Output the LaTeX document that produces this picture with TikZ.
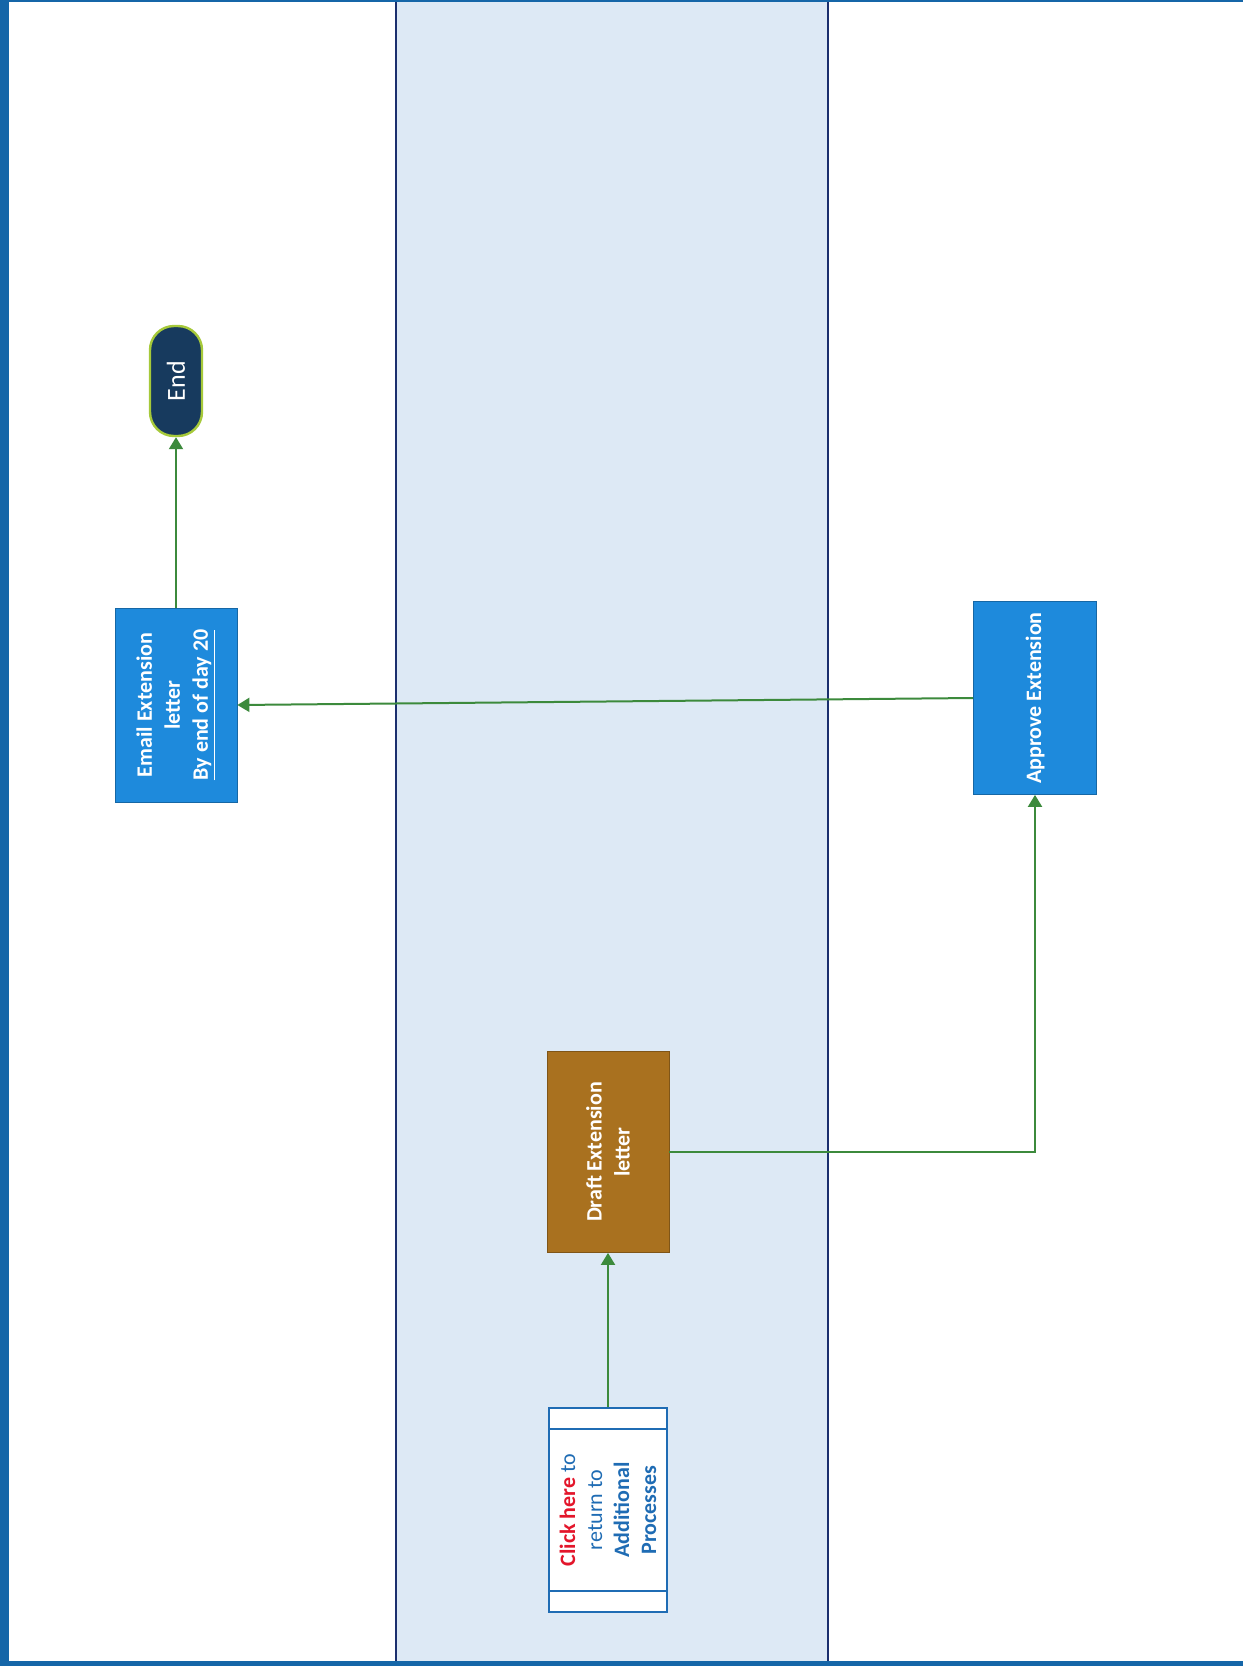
\documentclass[tikz,border=0pt]{standalone}
\usepackage{fontspec}
\setmainfont{Carlito}
\usepackage{tikz}
\usetikzlibrary{arrows.meta}
\definecolor{lanefill}{HTML}{DDE9F5}
\definecolor{laneline}{HTML}{1B2F6E}
\definecolor{frameblue}{HTML}{1566A8}
\definecolor{taskblue}{HTML}{1E8ADC}
\definecolor{taskbrown}{HTML}{A9711F}
\definecolor{endnavy}{HTML}{173A5E}
\definecolor{endrim}{HTML}{A6C93A}
\definecolor{flowgreen}{HTML}{3C8A3C}
\definecolor{linkblue}{HTML}{1F6CB4}
\definecolor{linkred}{HTML}{E3162B}

\begin{document}
\begin{tikzpicture}[x=0.5pt, y=-0.5pt,
    task/.style={rectangle, rotate=90, draw=#1!75!black, fill=#1, text=white,
        font=\fontsize{11}{14}\selectfont\bfseries, align=center, inner sep=0pt,
        minimum width=97pt, minimum height=61pt},
    terminal/.style={rectangle, rotate=90, rounded corners=12pt, draw=endrim,
        line width=1.2pt, fill=endnavy, text=white, font=\fontsize{13}{15}\selectfont,
        minimum width=55pt, minimum height=26pt},
    link/.style={rectangle, rotate=90, draw=linkblue, line width=1pt, fill=white,
        text=linkblue, font=\fontsize{11}{13.5}\selectfont, align=center,
        minimum width=102pt, minimum height=59pt},
    flow/.style={draw=flowgreen, line width=1pt, -{Triangle[length=6pt, width=7pt]}}]
    \useasboundingbox (0,0) rectangle (1243,1666);
    \fill[white] (0,0) rectangle (1243,1666);
    \fill[lanefill] (396,0) rectangle (828,1661);
    \draw[laneline, line width=1pt] (396,0) -- (396,1661) (828,0) -- (828,1661);
    \fill[frameblue] (0,0) rectangle (9,1666);
    \fill[frameblue] (0,1661) rectangle (1243,1666);
    \fill[frameblue] (0,0) rectangle (1243,2);

    \node[terminal] (end) at (176,381) {End};
    \node[task=taskblue] (email) at (176,705) {Email Extension\\letter\\\underline{By end of day 20}};
    \node[task=taskblue, minimum width=96.5pt, minimum height=61.5pt] (approve) at (1035,698) {Approve Extension};
    \node[task=taskbrown, minimum width=100.5pt] (draft) at (608,1152) {Draft Extension\\letter};
    \node[link] (back) at (608,1510) {{\color{linkred}\bfseries Click here} to\\return to\\\textbf{Additional}\\\textbf{Processes}};
    \draw[linkblue, line width=1pt]
        ([yshift=-11pt]back.north east) -- ([yshift=-11pt]back.south east)
        ([yshift=11pt]back.north west) -- ([yshift=11pt]back.south west);

    \path
        (back.east) edge[flow] (draft.west)
        (approve.north) edge[flow] (email.south)
        (email.east) edge[flow] (end.west);
    \draw[flow] (draft.south) -| (approve.west);
\end{tikzpicture}
\end{document}
